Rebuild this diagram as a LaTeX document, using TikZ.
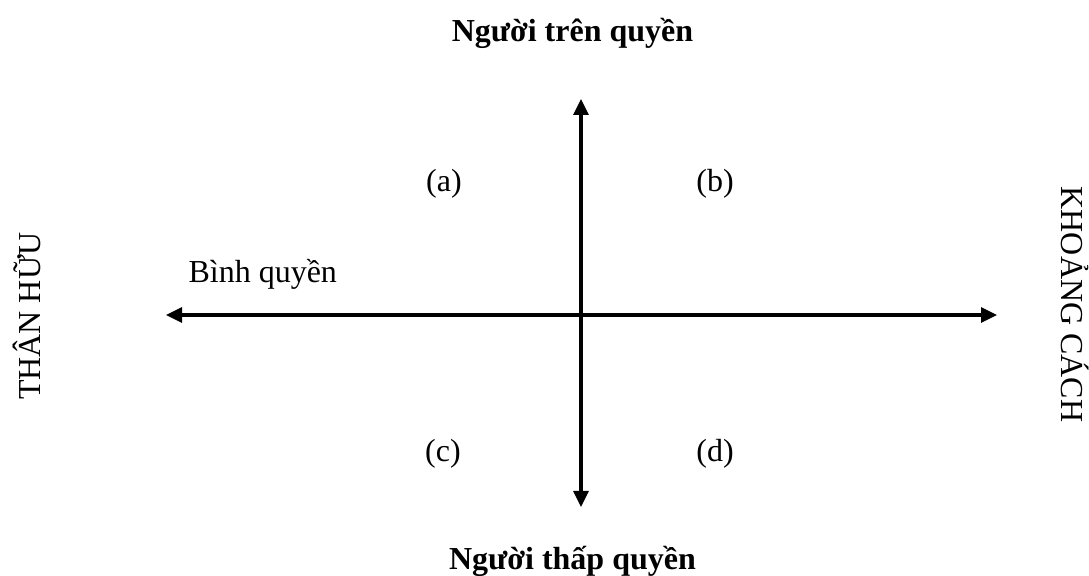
\documentclass[tikz,border=0pt]{standalone}
\usepackage{fontspec}
\setmainfont{Liberation Serif}
\usetikzlibrary{arrows.meta, positioning}

\begin{document}
\begin{tikzpicture}[
      x=0.375pt, y=0.375pt,
      font=\fontsize{12pt}{14pt}\selectfont,
      axis/.style={line width=1.15pt,
                   {Triangle[length=6pt,width=5.6pt]}-{Triangle[length=6pt,width=5.6pt]}},
      pole/.style={font=\fontsize{12pt}{14pt}\selectfont\bfseries, inner sep=0pt, anchor=base},
      side/.style={inner sep=0pt, anchor=base},
      quad/.style={inner sep=0pt},
    ]
    \useasboundingbox (0,0) rectangle (1089,576);
    % axis end points
    \def\xo{581} \def\yo{261}
    \coordinate (west)  at (166,\yo);
    \coordinate (east)  at (997,\yo);
    \coordinate (north) at (\xo,477);
    \coordinate (south) at (\xo,69);

    % --- the two axes ---
    \draw[axis] (west) -- (east);
    \draw[axis] (north) -- (south);

    % --- poles of the vertical axis ---
    \node[pole] (tren)  at (572.5,534) {Người trên quyền};
    \node[pole] (thap)  at (572.5,6)   {Người thấp quyền};

    % --- sides of the horizontal axis ---
    \node[side, rotate=90]  (thanhuu)   at (40,260)     {THÂN HỮU};
    \node[side, rotate=-90] (khoangcach) at (1061,271.5) {KHOẢNG CÁCH};
    \node[side, anchor=base west] (binh) at (188,293) {Bình quyền};

    % --- quadrants ---
    \node[quad] (qa) at (444,392) {(a)};
    \node[quad] (qb) at (715,392) {(b)};
    \node[quad] (qc) at (443,122) {(c)};
    \node[quad] (qd) at (715,122) {(d)};
\end{tikzpicture}
\end{document}
